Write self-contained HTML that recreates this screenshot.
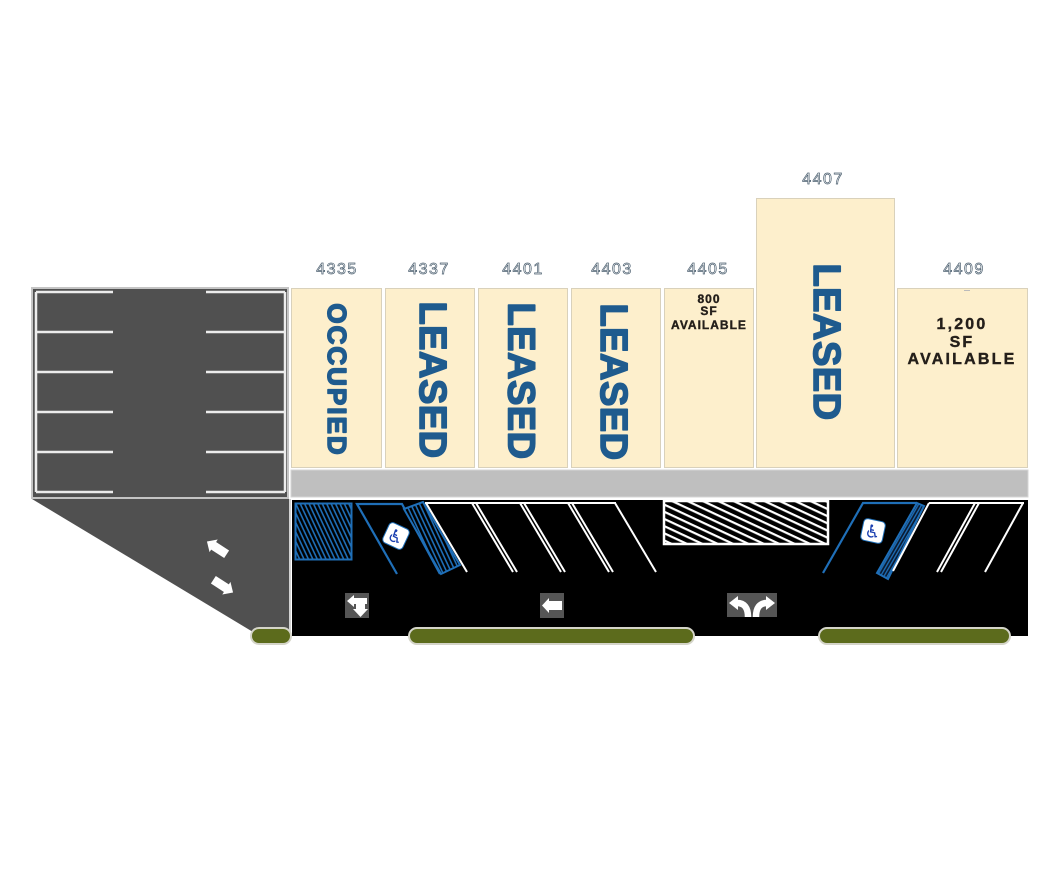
<!DOCTYPE html>
<html><head><meta charset="utf-8"><style>
html,body{margin:0;padding:0;background:#fff;}
svg{display:block;}
.num{font-family:"Liberation Sans",sans-serif;font-size:16px;fill:#fff;stroke:#4f6272;stroke-width:0.7;letter-spacing:1.5px;text-anchor:middle;}
.big{font-family:"Liberation Sans",sans-serif;font-weight:bold;fill:#1f5b8e;stroke:#1f5b8e;stroke-width:1.6;stroke-linejoin:round;text-anchor:middle;}
.avail{font-family:"Liberation Sans",sans-serif;font-weight:bold;fill:#241f1a;stroke:#241f1a;stroke-width:0.4;text-anchor:middle;}
</style></head><body>
<svg width="1058" height="887" viewBox="0 0 1058 887" xmlns="http://www.w3.org/2000/svg">
<defs>
  <pattern id="wh" patternUnits="userSpaceOnUse" width="10" height="6.5" patternTransform="rotate(25)">
    <rect x="0" y="0" width="10" height="6.5" fill="#000"/>
    <rect x="0" y="0" width="10" height="2.2" fill="#fff"/>
  </pattern>
  <pattern id="bh" patternUnits="userSpaceOnUse" width="10" height="4" patternTransform="rotate(65)">
    <rect x="0" y="0" width="10" height="4" fill="#000"/>
    <rect x="0" y="0" width="10" height="1.6" fill="#1f6fb8"/>
  </pattern>
  <pattern id="bh2" patternUnits="userSpaceOnUse" width="10" height="3" patternTransform="rotate(-60)">
    <rect x="0" y="0" width="10" height="3" fill="#0a1a30"/>
    <rect x="0" y="0" width="10" height="1.3" fill="#1f6fb8"/>
  </pattern>
</defs>

<!-- left lot -->
<rect x="32" y="288" width="256" height="210" fill="#505050" stroke="#c4c4c4" stroke-width="2"/>
<g stroke="#ececec" stroke-width="2.5" fill="none">
  <line x1="36" y1="292" x2="36" y2="492"/>
  <line x1="285" y1="292" x2="285" y2="492"/>
  <line x1="36" y1="292" x2="113" y2="292"/><line x1="206" y1="292" x2="285" y2="292"/>
  <line x1="36" y1="332" x2="113" y2="332"/><line x1="206" y1="332" x2="285" y2="332"/>
  <line x1="36" y1="372" x2="113" y2="372"/><line x1="206" y1="372" x2="285" y2="372"/>
  <line x1="36" y1="412" x2="113" y2="412"/><line x1="206" y1="412" x2="285" y2="412"/>
  <line x1="36" y1="452" x2="113" y2="452"/><line x1="206" y1="452" x2="285" y2="452"/>
  <line x1="36" y1="492" x2="113" y2="492"/><line x1="206" y1="492" x2="285" y2="492"/>
</g>
<!-- triangle -->
<polygon points="32,499 289,499 289,632 253,632" fill="#505050"/>
<line x1="290" y1="499" x2="290" y2="632" stroke="#c4c4c4" stroke-width="1.5"/>
<g fill="#fff">
  <g transform="translate(217,548) rotate(33)">
    <polygon points="-12,0 -4,-7.5 -4,7.5"/><rect x="-4.5" y="-4.5" width="16" height="9"/>
  </g>
  <g transform="translate(223,586) rotate(33)">
    <polygon points="12,0 4,-7.5 4,7.5"/><rect x="-11.5" y="-4.5" width="16" height="9"/>
  </g>
</g>

<!-- buildings -->
<g fill="#fdefcc" stroke="#d9d1bb" stroke-width="1">
  <rect x="291.5" y="288.5" width="90" height="179"/>
  <rect x="385.5" y="288.5" width="89" height="179"/>
  <rect x="478.5" y="288.5" width="89" height="179"/>
  <rect x="571.5" y="288.5" width="89" height="179"/>
  <rect x="664.5" y="288.5" width="89" height="179"/>
  <rect x="756.5" y="198.5" width="138" height="269"/>
  <rect x="897.5" y="288.5" width="130" height="179"/>
</g>
<line x1="964" y1="290.5" x2="970" y2="290.5" stroke="#bbb" stroke-width="1"/>

<!-- labels -->
<text class="num" x="337" y="274">4335</text>
<text class="num" x="429" y="274">4337</text>
<text class="num" x="523" y="274">4401</text>
<text class="num" x="612" y="274">4403</text>
<text class="num" x="708" y="274">4405</text>
<text class="num" x="823" y="184">4407</text>
<text class="num" x="964" y="274">4409</text>

<!-- vertical text -->
<text class="big" transform="translate(337.5,380) rotate(90)" y="9.4" font-size="26" font-weight="bold" letter-spacing="2">OCCUPIED</text>
<text class="big" transform="translate(434,380) rotate(90)" y="13.8" font-size="38" font-weight="bold" letter-spacing="0.5">LEASED</text>
<text class="big" transform="translate(522.5,381) rotate(90)" y="13.8" font-size="38" font-weight="bold" letter-spacing="0.5">LEASED</text>
<text class="big" transform="translate(615,382) rotate(90)" y="13.8" font-size="38" font-weight="bold" letter-spacing="0.5">LEASED</text>
<text class="big" transform="translate(828,342) rotate(90)" y="13.8" font-size="38" font-weight="bold" letter-spacing="0.5">LEASED</text>

<text class="avail" x="709" y="303" font-size="12" font-weight="bold" letter-spacing="1">800</text>
<text class="avail" x="709" y="315" font-size="12" font-weight="bold" letter-spacing="1">SF</text>
<text class="avail" x="709" y="329" font-size="12" font-weight="bold" letter-spacing="1">AVAILABLE</text>

<text class="avail" x="962" y="329" font-size="16" font-weight="bold" letter-spacing="2.2">1,200</text>
<text class="avail" x="962" y="347" font-size="16" font-weight="bold" letter-spacing="2.2">SF</text>
<text class="avail" x="962" y="364" font-size="16" font-weight="bold" letter-spacing="2.2">AVAILABLE</text>

<!-- gray strip -->
<rect x="291" y="470" width="737" height="27" fill="#bfbfbf" stroke="#d6d6d6" stroke-width="1"/>

<!-- black lot -->
<rect x="292" y="500" width="736" height="136" fill="#000"/>

<!-- left handicap -->
<rect x="295.5" y="503.5" width="56" height="56" fill="url(#bh)" stroke="#1f6fb8" stroke-width="2"/>
<polyline points="397,574 357,504 402,504 440,574" fill="none" stroke="#1f6fb8" stroke-width="2.2"/>
<polygon points="404,509 423,502 460,565 441,574" fill="url(#bh)" stroke="#1f6fb8" stroke-width="2"/>
<g transform="translate(396,536) rotate(25)">
  <rect x="-11" y="-11" width="22" height="22" rx="4" fill="#fff" stroke="#1f6fb8" stroke-width="1"/>
  <text x="0" y="7" text-anchor="middle" font-family="DejaVu Sans,sans-serif" font-size="18" fill="#1a3fb0">♿</text>
</g>

<!-- white stalls left -->
<g stroke="#fff" stroke-width="2" fill="none">
  <line x1="425" y1="503" x2="616" y2="503"/>
  <line x1="426" y1="503" x2="467" y2="572"/>
  <line x1="472" y1="503" x2="513" y2="572"/>
  <line x1="476" y1="503" x2="517" y2="572"/>
  <line x1="520" y1="503" x2="561" y2="572"/>
  <line x1="524" y1="503" x2="565" y2="572"/>
  <line x1="568" y1="503" x2="609" y2="572"/>
  <line x1="572" y1="503" x2="613" y2="572"/>
  <line x1="615" y1="503" x2="656" y2="572"/>
</g>

<!-- white hatched -->
<rect x="664" y="501" width="164" height="43" fill="url(#wh)" stroke="#fff" stroke-width="2.5"/>

<!-- right handicap -->
<polyline points="823,573 863,503 917,503" fill="none" stroke="#1f6fb8" stroke-width="2.2"/>
<polygon points="917,503 924,506 888,579 877,573" fill="url(#bh2)" stroke="#1f6fb8" stroke-width="2"/>
<g transform="translate(873,531) rotate(12)">
  <rect x="-11" y="-11" width="22" height="22" rx="4" fill="#fff" stroke="#1f6fb8" stroke-width="1"/>
  <text x="0" y="7" text-anchor="middle" font-family="DejaVu Sans,sans-serif" font-size="18" fill="#1a3fb0">♿</text>
</g>
<g stroke="#fff" stroke-width="2" fill="none">
  <line x1="929" y1="503" x2="1024" y2="503"/>
  <line x1="929" y1="503" x2="893" y2="571"/>
  <line x1="975" y1="503" x2="937" y2="572"/>
  <line x1="979" y1="503" x2="941" y2="572"/>
  <line x1="1023" y1="503" x2="985" y2="572"/>
</g>

<!-- road arrows -->
<g transform="translate(345,593)">
  <rect width="24" height="25" fill="#555"/>
  <g fill="#fff">
    <polygon points="2,8 9,2 9,14"/>
    <rect x="8" y="5" width="14" height="6"/>
    <rect x="11" y="10" width="9" height="7"/>
    <polygon points="8,16 23,16 15.5,24"/>
  </g>
</g>
<g transform="translate(540,593)">
  <rect width="24" height="25" fill="#555"/>
  <g fill="#fff">
    <polygon points="2,12.5 9,5 9,20"/>
    <rect x="8" y="8" width="14" height="9"/>
  </g>
</g>
<g transform="translate(727,593)">
  <rect width="50" height="24" fill="#555"/>
  <path d="M21 24 Q21 10 10 10" stroke="#fff" stroke-width="6.5" fill="none"/>
  <path d="M29 24 Q29 10 40 10" stroke="#fff" stroke-width="6.5" fill="none"/>
  <polygon points="2,10 11,3 11,17" fill="#fff"/>
  <polygon points="48,10 39,3 39,17" fill="#fff"/>
</g>

<!-- green pills -->
<g fill="#5c6b1c" stroke="#d4d4c8" stroke-width="2">
  <rect x="251" y="628" width="40" height="16" rx="8"/>
  <rect x="409" y="628" width="285" height="16" rx="8"/>
  <rect x="819" y="628" width="191" height="16" rx="8"/>
</g>
</svg>
</body></html>
